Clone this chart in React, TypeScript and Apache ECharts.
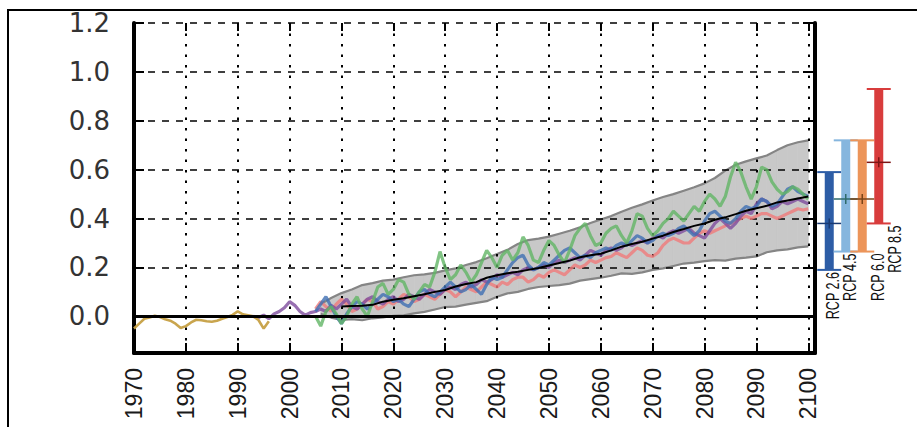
import React, { useEffect, useRef } from 'react';
import * as echarts from 'echarts';

// ---- axes ----
const xTickYears = [1970, 1980, 1990, 2000, 2010, 2020, 2030, 2040, 2050, 2060, 2070, 2080, 2090, 2100];
const yTickValues = [0, 0.2, 0.4, 0.6, 0.8, 1.0, 1.2];
const yUnitValue = -0.1; // where "(m)" is written
const yUnitLabel = '(m)';

// ---- observed (tide gauge) 1970-1996, yearly ----
const tideStart = 1970;
const tideGauge = [
  -0.05, -0.03, -0.01, -0.005, 0.002, -0.003, -0.012, -0.018, -0.03, -0.048,
  -0.04, -0.025, -0.014, -0.016, -0.02, -0.022, -0.018, -0.01, -0.003, 0.006,
  0.02, 0.008, 0.004, 0.0, -0.015, -0.05, -0.02,
];

// ---- purple 1993-2100, yearly ----
const purpleStart = 1993;
const purpleLevel = [
  0.0, -0.005, 0.005, -0.01, 0.01, 0.02, 0.035, 0.06, 0.045, 0.02,
  0.005, 0.015, 0.02, 0.03, 0.02, 0.045, 0.03, 0.05, 0.07, 0.04,
  0.03, 0.05, 0.07, 0.08, 0.06, 0.05, 0.07, 0.08, 0.06, 0.07,
  0.09, 0.08, 0.07, 0.09, 0.11, 0.10, 0.09, 0.11, 0.12, 0.11,
  0.13, 0.14, 0.12, 0.13, 0.15, 0.14, 0.15, 0.17, 0.16, 0.17,
  0.18, 0.17, 0.19, 0.20, 0.19, 0.20, 0.21, 0.20, 0.22, 0.23,
  0.22, 0.23, 0.24, 0.23, 0.25, 0.27, 0.26, 0.25, 0.27, 0.28,
  0.27, 0.28, 0.30, 0.29, 0.30, 0.31, 0.30, 0.32, 0.33, 0.32,
  0.34, 0.35, 0.34, 0.35, 0.36, 0.34, 0.33, 0.32, 0.35, 0.38,
  0.40, 0.38, 0.36, 0.38, 0.41, 0.43, 0.42, 0.46, 0.48, 0.47,
  0.44, 0.45, 0.47, 0.46, 0.47, 0.48, 0.47, 0.46,
];

// ---- model runs 2005-2100, yearly ----
const modelStart = 2005;
const greenLevel = [
  0.00, -0.04, 0.02, 0.04, 0.01, -0.03, 0.00, 0.05, 0.08, 0.03,
  0.00, 0.06, 0.12, 0.135, 0.09, 0.11, 0.15, 0.14, 0.09, 0.07,
  0.10, 0.13, 0.12, 0.18, 0.265, 0.20, 0.15, 0.17, 0.21, 0.18,
  0.14, 0.17, 0.22, 0.27, 0.24, 0.20, 0.25, 0.27, 0.23, 0.26,
  0.325, 0.29, 0.23, 0.22, 0.27, 0.31, 0.29, 0.25, 0.22, 0.27,
  0.33, 0.36, 0.38, 0.33, 0.29, 0.30, 0.34, 0.36, 0.37, 0.33,
  0.30, 0.35, 0.42, 0.41, 0.36, 0.33, 0.35, 0.38, 0.40, 0.43,
  0.41, 0.39, 0.42, 0.45, 0.43, 0.47, 0.50, 0.48, 0.45, 0.49,
  0.57, 0.63, 0.59, 0.53, 0.48, 0.53, 0.61, 0.60, 0.55, 0.52,
  0.50, 0.51, 0.53, 0.52, 0.50, 0.48,
];
const blueLevel = [
  0.02, 0.05, 0.08, 0.04, 0.00, -0.03, 0.01, 0.04, 0.06, 0.05,
  0.03, 0.05, 0.07, 0.09, 0.08, 0.06, 0.07, 0.05, 0.04, 0.07,
  0.10, 0.11, 0.09, 0.08, 0.10, 0.12, 0.14, 0.12, 0.10, 0.11,
  0.13, 0.11, 0.09, 0.13, 0.16, 0.15, 0.16, 0.19, 0.22, 0.24,
  0.25, 0.21, 0.19, 0.20, 0.22, 0.21, 0.23, 0.25, 0.27, 0.28,
  0.26, 0.24, 0.25, 0.24, 0.26, 0.27, 0.28, 0.27, 0.29, 0.30,
  0.29, 0.31, 0.33, 0.32, 0.30, 0.31, 0.33, 0.34, 0.33, 0.34,
  0.36, 0.37, 0.35, 0.33, 0.35, 0.39, 0.42, 0.43, 0.41, 0.39,
  0.38, 0.40, 0.43, 0.45, 0.44, 0.45, 0.48, 0.47, 0.45, 0.46,
  0.49, 0.52, 0.53, 0.51, 0.50, 0.49,
];
const redLevel = [
  0.03, 0.06, 0.04, 0.02, 0.05, 0.07, 0.05, 0.02, 0.03, 0.05,
  0.07, 0.06, 0.03, 0.04, 0.06, 0.05, 0.07, 0.09, 0.08, 0.06,
  0.07, 0.09, 0.08, 0.07, 0.09, 0.11, 0.10, 0.08, 0.10, 0.12,
  0.11, 0.10, 0.12, 0.14, 0.13, 0.12, 0.14, 0.13, 0.15, 0.16,
  0.16, 0.14, 0.15, 0.17, 0.16, 0.18, 0.19, 0.18, 0.17, 0.19,
  0.21, 0.20, 0.21, 0.23, 0.22, 0.23, 0.24, 0.245, 0.26, 0.25,
  0.24, 0.26, 0.28, 0.27, 0.25, 0.245, 0.26, 0.29, 0.31, 0.32,
  0.31, 0.30, 0.30, 0.32, 0.34, 0.35, 0.34, 0.35, 0.36, 0.37,
  0.38, 0.39, 0.40, 0.41, 0.40, 0.41, 0.42, 0.42, 0.41, 0.40,
  0.41, 0.42, 0.43, 0.44, 0.435, 0.44,
];

// ---- ensemble mean 2010-2100, every 2 years ----
const meanStart = 2010;
const meanStep = 2;
const meanLevel = [
  0.040, 0.042, 0.043, 0.047, 0.060, 0.068, 0.074, 0.082, 0.090, 0.100,
  0.108, 0.122, 0.132, 0.140, 0.158, 0.168, 0.176, 0.182, 0.190, 0.198,
  0.208, 0.218, 0.228, 0.242, 0.250, 0.256, 0.270, 0.285, 0.296, 0.305,
  0.318, 0.330, 0.345, 0.357, 0.370, 0.380, 0.395, 0.405, 0.418, 0.432,
  0.442, 0.452, 0.466, 0.474, 0.482, 0.490,
];

// ---- likely range band 2006-2100, every 2 years ----
const bandStart = 2006;
const bandStep = 2;
const bandLower = [
  0.010, -0.005, -0.015, -0.012, -0.016, -0.008, -0.004, 0.002, 0.004, 0.012,
  0.018, 0.028, 0.038, 0.040, 0.048, 0.055, 0.062, 0.080, 0.094, 0.100,
  0.112, 0.120, 0.124, 0.128, 0.134, 0.146, 0.152, 0.158, 0.166, 0.176,
  0.174, 0.180, 0.190, 0.196, 0.206, 0.216, 0.220, 0.226, 0.230, 0.228,
  0.236, 0.240, 0.245, 0.262, 0.270, 0.274, 0.282, 0.286,
];
const bandUpper = [
  0.050, 0.075, 0.095, 0.110, 0.128, 0.136, 0.146, 0.150, 0.160, 0.168,
  0.172, 0.178, 0.188, 0.196, 0.210, 0.222, 0.238, 0.255, 0.272, 0.296,
  0.312, 0.318, 0.326, 0.338, 0.350, 0.364, 0.382, 0.396, 0.410, 0.428,
  0.444, 0.458, 0.474, 0.488, 0.500, 0.514, 0.528, 0.544, 0.566, 0.596,
  0.620, 0.634, 0.646, 0.658, 0.680, 0.700, 0.712, 0.720,
];

// ---- 2081-2100 ranges per scenario ----
const rcpNames = ['RCP 2.6', 'RCP 4.5', 'RCP 6.0', 'RCP 8.5'];
const rcpLow = [0.19, 0.265, 0.265, 0.38];
const rcpMid = [0.38, 0.48, 0.48, 0.63];
const rcpHigh = [0.59, 0.72, 0.72, 0.93];

// styling
const rcpColors = ['#2d5da6', '#86b6de', '#ec955a', '#d83c3c'];
const rcpMarkColors = ['#1a3a72', '#2f6a6a', '#7a4418', '#7d1515'];
const rcpLabelDx = [3, 4, 15, 16];
const bandFill = '#c8c8c8';
const bandEdge = '#858585';

const pairs = (start: number, step: number, vals: number[]) =>
  vals.map((v, i) => [start + i * step, v]);

const Y_MIN = -0.15;
const Y_MAX = 1.2;
const X_MIN = 1970;
const X_MAX = 2101.3;

function buildOption() {
  const lineBase = {
    type: 'line',
    xAxisIndex: 0,
    yAxisIndex: 0,
    showSymbol: false,
    symbol: 'none',
    silent: true,
  };
  const bandSegments = bandLower.slice(0, -1).map((lo, i) => [
    bandStart + i * bandStep,
    lo,
    bandUpper[i],
    bandStart + (i + 1) * bandStep,
    bandLower[i + 1],
    bandUpper[i + 1],
  ]);

  return {
    animation: false,
    backgroundColor: '#ffffff',
    graphic: [
      {
        type: 'rect',
        shape: { x: 8, y: 10, width: 1000, height: 600 },
        style: { fill: 'none', stroke: '#000', lineWidth: 2 },
        z: -10,
        silent: true,
      },
    ],
    grid: [
      { left: 134, top: 23, width: 681, height: 330 },
      { left: 821, top: 23, width: 66, height: 330 },
    ],
    xAxis: [
      {
        type: 'value',
        gridIndex: 0,
        min: X_MIN,
        max: X_MAX,
        position: 'bottom',
        z: 3,
        axisLine: { show: true, onZero: false, lineStyle: { color: '#000', width: 4 } },
        axisTick: {
          show: true,
          inside: true,
          length: 10,
          customValues: xTickYears,
          lineStyle: { color: '#000', width: 2 },
        },
        axisLabel: {
          show: true,
          customValues: xTickYears,
          rotate: 90,
          margin: 15,
          fontSize: 23,
          fontFamily: 'Liberation Sans',
          color: '#1a1a1a',
          formatter: (v: number) => String(Math.round(v)),
        },
        splitLine: {
          show: true,
          lineStyle: { color: '#000', width: 2, type: [2.5, 8] },
        },
      },
      {
        type: 'value',
        gridIndex: 0,
        min: X_MIN,
        max: X_MAX,
        position: 'top',
        axisLine: { show: false, onZero: false },
        axisTick: {
          show: true,
          inside: true,
          length: 8,
          customValues: xTickYears,
          lineStyle: { color: '#000', width: 2 },
        },
        axisLabel: { show: false },
        splitLine: { show: false },
      },
      {
        type: 'value',
        gridIndex: 1,
        min: 0,
        max: 4,
        show: false,
      },
    ],
    yAxis: [
      {
        type: 'value',
        gridIndex: 0,
        min: Y_MIN,
        max: Y_MAX,
        position: 'left',
        z: 3,
        axisLine: { show: true, onZero: false, lineStyle: { color: '#000', width: 4 } },
        axisTick: {
          show: true,
          inside: true,
          length: 10,
          customValues: yTickValues,
          lineStyle: { color: '#000', width: 2 },
        },
        axisLabel: {
          show: true,
          customValues: [yUnitValue, ...yTickValues],
          margin: 24,
          fontSize: 26,
          fontFamily: 'DejaVu Sans',
          color: '#333',
          formatter: (v: number) =>
            Math.abs(v - yUnitValue) < 1e-6 ? yUnitLabel : v.toFixed(1),
        },
        splitLine: {
          show: true,
          lineStyle: { color: '#000', width: 1.5, type: [7, 7] },
        },
      },
      {
        type: 'value',
        gridIndex: 0,
        min: Y_MIN,
        max: Y_MAX,
        position: 'right',
        z: 3,
        axisLine: { show: true, onZero: false, lineStyle: { color: '#000', width: 4 } },
        axisTick: {
          show: true,
          inside: true,
          length: 12,
          customValues: yTickValues,
          lineStyle: { color: '#000', width: 2 },
        },
        axisLabel: { show: false },
        splitLine: { show: false },
      },
      {
        type: 'value',
        gridIndex: 1,
        min: Y_MIN,
        max: Y_MAX,
        show: false,
      },
    ],
    series: [
      {
        type: 'custom',
        name: 'band',
        xAxisIndex: 0,
        yAxisIndex: 0,
        z: -2,
        silent: true,
        encode: { x: [0, 3], y: [1, 2, 4, 5] },
        data: bandSegments,
        renderItem: (params: any, api: any) => {
          const x0 = api.value(0);
          const x1 = api.value(3);
          const p1 = api.coord([x0, api.value(1)]);
          const p2 = api.coord([x1, api.value(4)]);
          const p3 = api.coord([x1, api.value(5)]);
          const p4 = api.coord([x0, api.value(2)]);
          return {
            type: 'polygon',
            shape: { points: [p1, p2, p3, p4] },
            style: { fill: bandFill, stroke: bandFill, lineWidth: 0.8 },
          };
        },
      },
      {
        ...lineBase,
        name: 'band-lower',
        z: -1,
        data: pairs(bandStart, bandStep, bandLower),
        lineStyle: { color: bandEdge, width: 2.2 },
      },
      {
        ...lineBase,
        name: 'band-upper',
        z: -1,
        data: pairs(bandStart, bandStep, bandUpper),
        lineStyle: { color: bandEdge, width: 2.2 },
      },
      {
        ...lineBase,
        name: 'red',
        data: pairs(modelStart, 1, redLevel),
        lineStyle: { color: '#f07a7a', width: 3.2, opacity: 0.8 },
      },
      {
        ...lineBase,
        name: 'purple',
        data: pairs(purpleStart, 1, purpleLevel),
        lineStyle: { color: '#7e4c9e', width: 3.2, opacity: 0.8 },
      },
      {
        ...lineBase,
        name: 'blue',
        data: pairs(modelStart, 1, blueLevel),
        lineStyle: { color: '#3e6fb3', width: 3.2, opacity: 0.8 },
      },
      {
        ...lineBase,
        name: 'green',
        data: pairs(modelStart, 1, greenLevel),
        lineStyle: { color: '#62b565', width: 3.2, opacity: 0.8 },
      },
      {
        ...lineBase,
        name: 'tide',
        data: pairs(tideStart, 1, tideGauge),
        lineStyle: { color: '#c6a044', width: 2.6, opacity: 0.95 },
        markLine: {
          silent: true,
          symbol: ['none', 'none'],
          label: { show: false },
          lineStyle: { color: '#000', width: 3, type: 'solid' },
          data: [{ yAxis: 0 }],
        },
      },
      {
        ...lineBase,
        name: 'mean',
        z: 5,
        data: pairs(meanStart, meanStep, meanLevel),
        lineStyle: { color: '#000', width: 2 },
      },
      {
        type: 'custom',
        name: 'rcp',
        xAxisIndex: 2,
        yAxisIndex: 2,
        silent: true,
        clip: false,
        encode: { x: 0, y: [1, 2, 3] },
        data: rcpLow.map((v, i) => [i, v, rcpMid[i], rcpHigh[i]]),
        renderItem: (params: any, api: any) => {
          const i = api.value(0);
          const low = api.value(1);
          const mid = api.value(2);
          const high = api.value(3);
          const top = api.coord([i + 0.5, high]);
          const bot = api.coord([i + 0.5, low]);
          const m = api.coord([i + 0.5, mid]);
          const cx = top[0];
          const color = rcpColors[i];
          const mark = rcpMarkColors[i];
          return {
            type: 'group',
            children: [
              {
                type: 'rect',
                shape: { x: cx - 4.5, y: top[1], width: 9, height: bot[1] - top[1] },
                style: { fill: color },
              },
              {
                type: 'line',
                shape: { x1: cx - 12, y1: top[1], x2: cx + 12, y2: top[1] },
                style: { stroke: color, lineWidth: 2 },
              },
              {
                type: 'line',
                shape: { x1: cx - 12, y1: bot[1], x2: cx + 12, y2: bot[1] },
                style: { stroke: color, lineWidth: 2 },
              },
              {
                type: 'line',
                shape: { x1: cx - 12, y1: m[1], x2: cx + 12, y2: m[1] },
                style: { stroke: mark, lineWidth: 1.5 },
              },
              {
                type: 'line',
                shape: { x1: cx, y1: m[1] - 5, x2: cx, y2: m[1] + 5 },
                style: { stroke: mark, lineWidth: 1.5 },
              },
              {
                type: 'text',
                x: cx + rcpLabelDx[i],
                y: bot[1] + 2,
                rotation: Math.PI / 2,
                scaleX: 0.7,
                style: {
                  text: rcpNames[i],
                  fontSize: 18,
                  fontFamily: 'Liberation Sans',
                  fill: '#111',
                  align: 'right',
                  verticalAlign: 'middle',
                },
              },
            ],
          };
        },
      },
    ],
  };
}

export default function App() {
  const ref = useRef<HTMLDivElement>(null);
  useEffect(() => {
    if (!ref.current) return;
    const chart = echarts.init(ref.current, null, { renderer: 'svg' });
    chart.setOption(buildOption() as any);
    return () => chart.dispose();
  }, []);
  return (
    <div
      ref={ref}
      style={{ position: 'fixed', left: 0, top: 0, width: 917, height: 427, background: '#fff' }}
    />
  );
}
